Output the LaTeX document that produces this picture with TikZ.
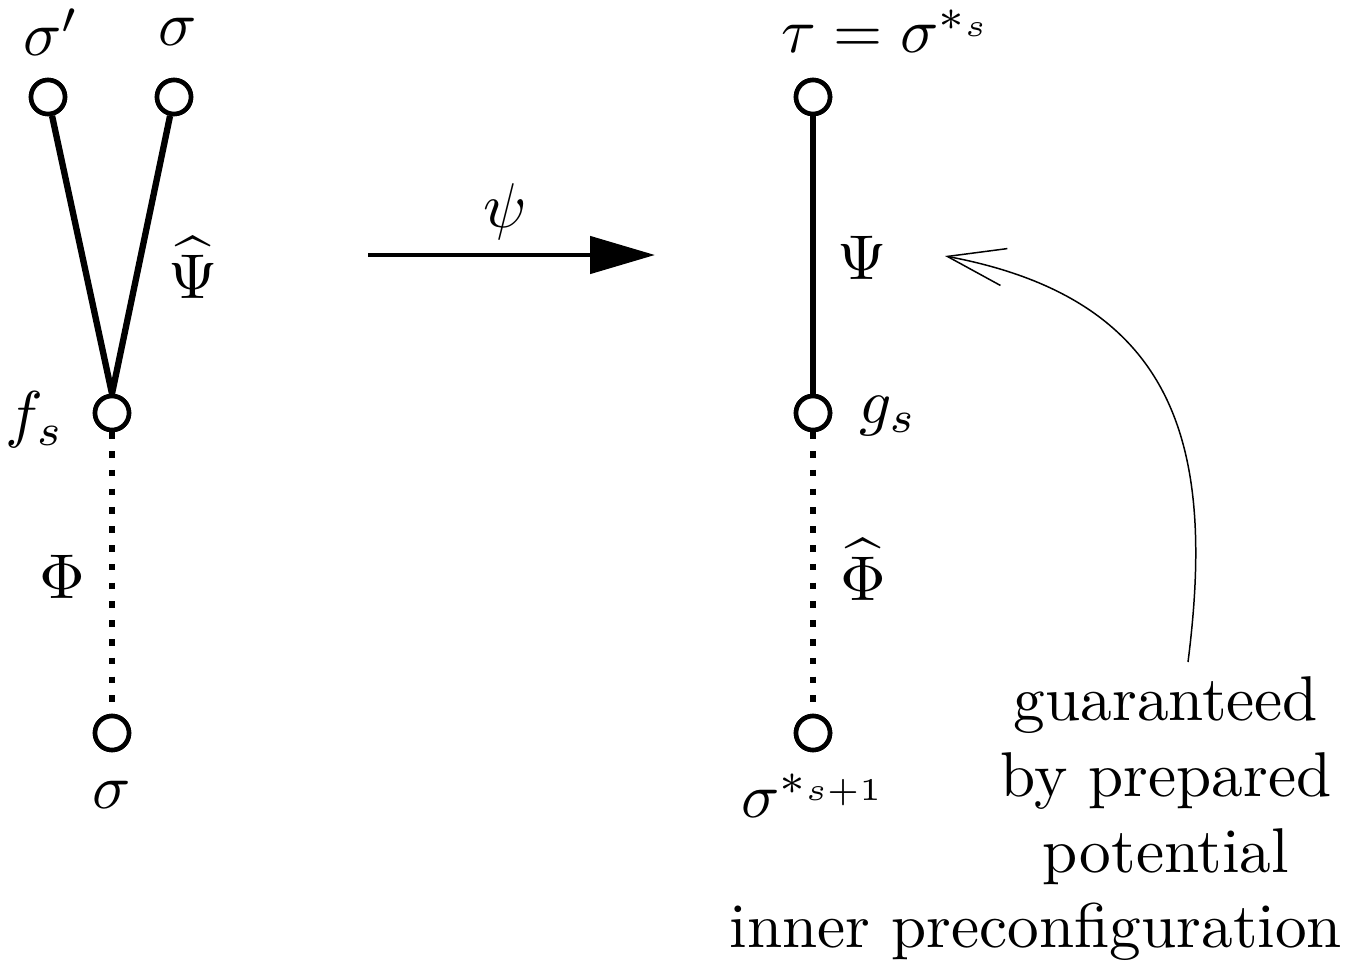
\documentclass[tikz,border=0pt]{standalone}
\usetikzlibrary{arrows.meta}
\begin{document}
\begin{tikzpicture}[x=0.02cm,y=-0.02cm,
  vert/.style={circle,draw,line width=2.6pt,minimum size=0.68cm,inner sep=0pt,fill=white},
  solidedge/.style={line width=3.6pt},
  dotedge/.style={line width=3.7pt,dash pattern=on 3.7pt off 7pt},
  lbl/.style={inner sep=0pt,scale=3.6,transform shape},
  txt/.style={inner sep=0pt,scale=3.6,transform shape}]
\useasboundingbox (0,0) rectangle (1366,963);
% vertices
\node[vert] (sp) at (48,97) {};
\node[vert] (s) at (174,97) {};
\node[vert] (fs) at (112,413) {};
\node[vert] (sb) at (112,733) {};
\node[vert] (tau) at (813,97) {};
\node[vert] (gs) at (813,413) {};
\node[vert] (sn) at (813,733) {};
% edges
\draw[solidedge] (sp) -- (fs.north);
\draw[solidedge] (s) -- (fs.north);
\draw[dotedge] (fs.south) -- (sb.north);
\draw[solidedge] (tau) -- (gs);
\draw[dotedge] (gs.south) -- (sn.north);
% redraw vertices on top
\node[vert] at (sp) {};
\node[vert] at (s) {};
\node[vert] at (fs) {};
\node[vert] at (sb) {};
\node[vert] at (tau) {};
\node[vert] at (gs) {};
\node[vert] at (sn) {};
% labels
\node[lbl, anchor=base west] (lsp) at (22,56) {$\sigma'$};
\node[lbl, anchor=base west] (ls) at (157,46) {$\sigma$};
\node[lbl] (lPsihat) at (193,268) {$\widehat{\Psi}$};
\node[lbl] (lfs) at (35,420) {$f_s$};
\node[lbl] (lPhi) at (62,577) {$\Phi$};
\node[lbl] (lsb) at (112,795) {$\sigma$};
\node[lbl] (lpsi) at (505,212) {$\psi$};
\node[lbl, anchor=base west] (ltau) at (780,53) {$\tau = \sigma^{*_s}$};
\node[lbl] (lPsi) at (862,258) {$\Psi$};
\node[lbl] (lgs) at (888,416) {$g_s$};
\node[lbl] (lPhihat) at (863,570) {$\widehat{\Phi}$};
\node[lbl, anchor=base west] (lsn) at (740,817) {$\sigma^{*_{s+1}}$};
% main arrow
\coordinate (a1) at (368,255);
\coordinate (a2) at (655,255);
\draw[line width=2.7pt, -{Triangle[length=1.3cm,width=0.74cm]}] (a1) -- (a2);
% text
\node[txt, anchor=base] (t1) at (1166,720) {guaranteed};
\node[txt, anchor=base] (t2) at (1166,796) {by prepared};
\node[txt, anchor=base] (t3) at (1166,872) {potential};
\node[txt, anchor=base] (t4) at (1036,947) {inner preconfiguration};
% curved arrow
\coordinate (tail) at (1188,662);
\coordinate (tip) at (945,256);
\draw[line width=0.85pt, -{Straight Barb[length=1.15cm,width=0.75cm]}] (tail) .. controls (1215,450) and (1180,300) .. (tip);
\end{tikzpicture}
\end{document}
